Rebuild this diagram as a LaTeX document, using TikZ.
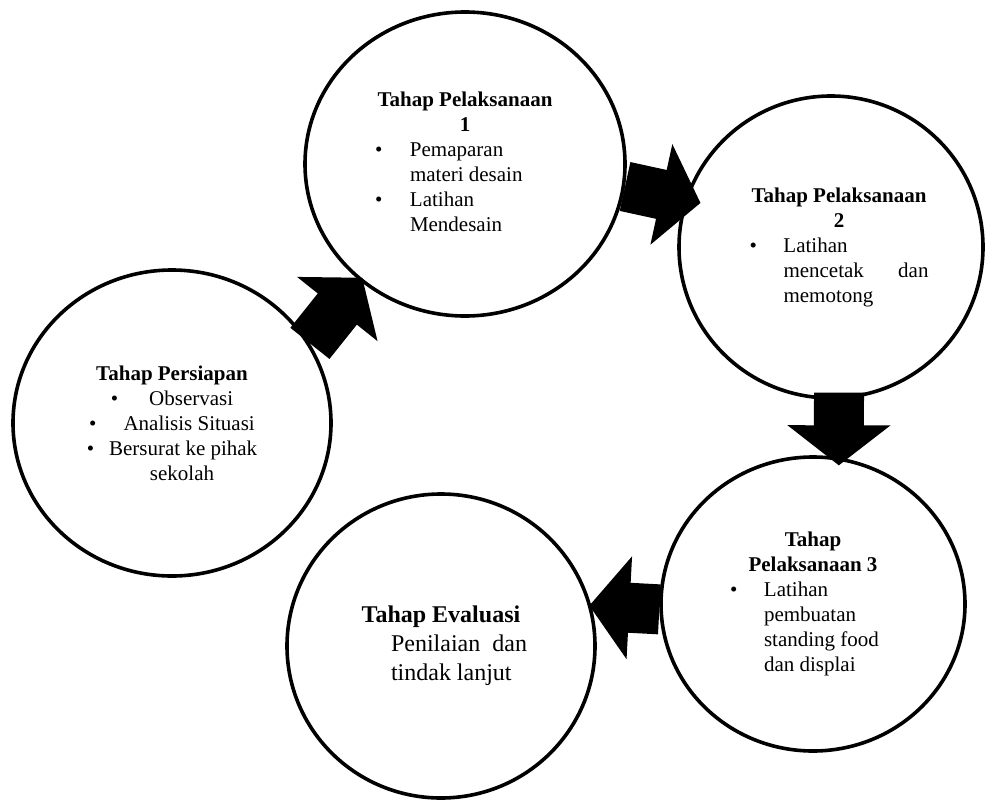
\documentclass[tikz,border=0pt]{standalone}
\usepackage{fontspec}
\setmainfont{Liberation Serif}
\usetikzlibrary{calc,shapes.geometric}
\tikzset{
  stageCircle/.style={
    ellipse,
    draw=black,
    fill=white,
    line width=1.8pt,
    inner sep=0pt,
    font=\fontsize{10.5}{12.5}\selectfont
  },
  stageArrow/.style={fill=black, draw=none}
}
% block arrow from #1 to #2, stretched by #3 at the back and #4 at the tip
\newcommand{\drawStageArrow}[4]{%
  \path let \p1=($(#2)-(#1)$), \n1={atan2(\y1,\x1)},
    \n2={veclen(\x1,\y1)} in
    \pgfextra{\xdef\arrowAngle{\n1}\xdef\arrowLength{\n2}};
  \fill[stageArrow, shift={(#1)}, rotate=\arrowAngle]
    (-#3,12.5pt) -- ({\arrowLength+#4-20pt},12.5pt)
    -- ({\arrowLength+#4-20pt},25.75pt) -- ({\arrowLength+#4},0pt)
    -- ({\arrowLength+#4-20pt},-25.75pt) -- ({\arrowLength+#4-20pt},-12.5pt)
    -- (-#3,-12.5pt) -- cycle;
}

\begin{document}
\begin{tikzpicture}[x=0.5pt, y=-0.5pt]
    \useasboundingbox (0,0) rectangle (990,803);

    \node[stageCircle, minimum width=159pt, minimum height=153pt,
      align=center] (persiapan) at (172,423)
      {\textbf{Tahap Persiapan}\\
      \textbullet\hspace{15.5pt}Observasi\\
      \textbullet\hspace{13.5pt}Analisis Situasi\\
      \textbullet\hspace{7.5pt}Bersurat ke pihak\\
      \hspace*{10pt}sekolah};
    \node[stageCircle, minimum width=160pt, minimum height=152pt]
      (pelaksanaan1) at (465,164)
      {\begin{tabular}{@{}p{17.5pt}@{}p{72.5pt}@{}}
        \multicolumn{2}{@{}c@{}}{\textbf{Tahap Pelaksanaan}}\\
        \multicolumn{2}{@{}c@{}}{\textbf{1}}\\
        \textbullet & Pemaparan\\
                    & materi desain\\
        \textbullet & Latihan\\
                    & Mendesain
      \end{tabular}};
    \node[stageCircle, minimum width=152pt, minimum height=151pt]
      (pelaksanaan2) at (831,247)
      {\begin{tabular}{@{\hspace{8pt}}p{17pt}@{}p{72.5pt}@{}}
        \multicolumn{2}{@{\hspace{8pt}}c@{}}{\textbf{Tahap Pelaksanaan}}\\
        \multicolumn{2}{@{\hspace{8pt}}c@{}}{\textbf{2}}\\
        \textbullet & Latihan\\
                    & mencetak\hfill dan\\
                    & memotong
      \end{tabular}};
    \node[stageCircle, minimum width=152pt, minimum height=147pt]
      (pelaksanaan3) at (813,604)
      {\begin{tabular}{@{}p{17pt}@{}p{66pt}@{}}
        \multicolumn{2}{@{}c@{}}{\textbf{Tahap}}\\
        \multicolumn{2}{@{}c@{}}{\textbf{Pelaksanaan 3}}\\
        \textbullet & Latihan\\
                    & pembuatan\\
                    & standing food\\
                    & dan displai
      \end{tabular}};
    \node[stageCircle, minimum width=154pt, minimum height=152pt,
      font=\fontsize{12}{14.5}\selectfont] (evaluasi) at (441,646)
      {\begin{tabular}{@{}p{18pt}@{}p{68pt}@{}}
        \multicolumn{2}{@{}c@{}}{\textbf{Tahap Evaluasi}}\\
          & Penilaian\hfill dan\\
          & tindak lanjut
      \end{tabular}};

    \drawStageArrow{persiapan.30}{pelaksanaan1.228}{0pt}{2pt}
    \drawStageArrow{pelaksanaan1.-8}{pelaksanaan2.162}{0pt}{8pt}
    \drawStageArrow{pelaksanaan2.-87}{pelaksanaan3.80}{3.5pt}{4pt}
    \drawStageArrow{pelaksanaan3.182}{evaluasi.15}{0pt}{1pt}
  \end{tikzpicture}
\end{document}
